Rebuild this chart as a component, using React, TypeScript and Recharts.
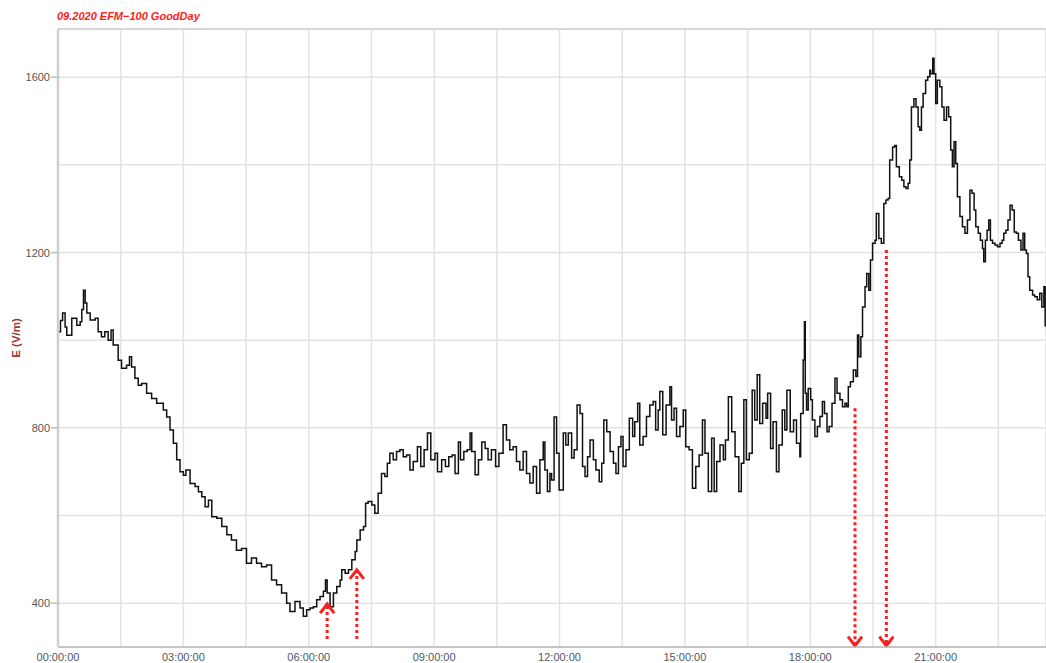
import React from 'react';
import { LineChart, Line, XAxis, YAxis, CartesianGrid, ReferenceLine } from 'recharts';

// [hour of day, E field in V/m]
const earlyDecline: [number, number][] = [
  [0, 1019], [0.06, 1045], [0.11, 1062], [0.17, 1030], [0.21, 1011], [0.33, 1050], [0.45, 1034],
  [0.53, 1042], [0.57, 1070], [0.61, 1114], [0.65, 1085], [0.69, 1062], [0.77, 1046], [0.89, 1050],
  [0.96, 1019], [1.04, 1008], [1.12, 1019], [1.2, 1000], [1.27, 1023], [1.32, 989], [1.44, 954],
  [1.52, 936], [1.64, 943], [1.71, 962], [1.76, 939], [1.84, 913], [1.92, 897], [2.0, 901],
  [2.12, 879], [2.24, 867], [2.36, 856], [2.44, 856], [2.52, 841], [2.6, 825], [2.68, 795],
  [2.76, 765], [2.84, 727], [2.92, 700], [3.0, 692], [3.06, 704], [3.16, 673], [3.28, 666],
  [3.36, 654], [3.44, 643], [3.52, 620], [3.6, 635], [3.68, 597], [3.8, 594], [3.92, 575],
  [4.04, 556], [4.15, 544], [4.27, 521], [4.39, 525], [4.51, 491], [4.63, 503], [4.75, 491],
  [4.87, 483], [4.99, 487], [5.11, 453], [5.23, 442], [5.35, 423], [5.47, 400], [5.55, 381],
  [5.67, 404],
];

const sunriseRise: [number, number][] = [
  [5.79, 389], [5.87, 370], [5.95, 385], [6.03, 389], [6.11, 392], [6.19, 408], [6.27, 415],
  [6.35, 427], [6.4, 453], [6.44, 423], [6.51, 392], [6.59, 423], [6.67, 438], [6.75, 453],
  [6.79, 476], [6.87, 468], [6.95, 476], [7.03, 499], [7.11, 518], [7.15, 544], [7.23, 567],
  [7.31, 575], [7.36, 628], [7.42, 632],
];

const morningPlateau: [number, number][] = [
  [7.51, 624], [7.58, 605], [7.66, 651], [7.74, 696], [7.82, 689], [7.88, 719], [7.94, 742],
  [8.02, 727], [8.1, 746], [8.18, 750], [8.26, 734], [8.34, 738], [8.42, 704], [8.5, 723],
  [8.6, 757], [8.68, 712], [8.76, 750], [8.84, 788], [8.92, 727], [9.02, 742], [9.08, 700],
  [9.18, 727], [9.27, 712], [9.35, 734], [9.43, 738], [9.5, 696], [9.58, 768], [9.63, 727],
  [9.71, 746], [9.79, 750], [9.86, 788], [9.9, 746], [9.98, 693], [10.06, 727], [10.14, 768],
  [10.22, 753], [10.29, 727], [10.37, 750], [10.47, 712], [10.55, 742], [10.65, 807], [10.73, 772],
  [10.81, 750], [10.89, 757], [10.97, 723], [11.05, 704], [11.13, 746], [11.21, 696], [11.29, 674],
  [11.37, 712], [11.45, 651], [11.53, 727], [11.61, 768], [11.65, 704], [11.71, 655], [11.77, 696],
  [11.81, 681], [11.87, 825], [11.93, 742], [11.99, 658],
];

const afternoonNoise: [number, number][] = [
  [12.03, 658], [12.09, 788], [12.15, 761], [12.21, 788], [12.29, 731], [12.35, 750], [12.42, 852],
  [12.49, 833], [12.55, 712], [12.61, 689], [12.67, 734], [12.73, 772], [12.81, 727], [12.87, 704],
  [12.95, 677], [13.01, 719], [13.06, 818], [13.13, 791], [13.21, 746], [13.29, 719], [13.35, 696],
  [13.41, 757], [13.47, 780], [13.52, 712], [13.59, 750], [13.67, 822], [13.75, 780], [13.8, 814],
  [13.87, 856], [13.92, 761], [14.0, 780], [14.08, 826], [14.16, 852], [14.24, 860], [14.3, 795],
  [14.36, 841], [14.4, 883], [14.47, 784], [14.55, 852], [14.64, 894], [14.68, 818], [14.74, 845],
  [14.8, 780], [14.88, 803], [14.96, 841], [15.02, 757], [15.1, 750], [15.18, 662], [15.26, 712],
  [15.34, 738], [15.42, 818], [15.48, 742], [15.56, 655], [15.64, 776], [15.7, 655], [15.76, 723],
  [15.84, 761], [15.92, 727], [15.97, 772], [16.04, 871], [16.12, 791], [16.2, 734], [16.29, 655],
  [16.35, 719], [16.41, 864], [16.47, 727], [16.54, 742], [16.61, 886], [16.67, 818], [16.73, 921],
  [16.79, 810], [16.86, 856], [16.94, 822], [16.98, 879], [17.05, 753], [17.11, 814], [17.19, 700],
  [17.25, 761], [17.33, 841], [17.39, 795], [17.44, 886], [17.52, 791], [17.6, 818], [17.67, 765],
  [17.75, 734],
];

const eveningRise: [number, number][] = [
  [17.77, 833], [17.83, 955], [17.86, 1042], [17.88, 879], [17.91, 841], [17.95, 890], [18.01, 864],
  [18.05, 818], [18.11, 780], [18.17, 803], [18.23, 826], [18.29, 860], [18.34, 833], [18.4, 791],
  [18.45, 803], [18.52, 856], [18.59, 913], [18.64, 879], [18.71, 864], [18.77, 848], [18.83, 856],
  [18.87, 848], [18.91, 894], [18.96, 905], [19.03, 932], [19.09, 917], [19.13, 1012], [19.16, 962],
  [19.21, 1008], [19.25, 1076], [19.31, 1122], [19.35, 1152], [19.4, 1114], [19.44, 1183],
  [19.49, 1221], [19.55, 1228], [19.58, 1289], [19.64, 1232], [19.7, 1221], [19.76, 1312],
  [19.81, 1320], [19.86, 1323], [19.9, 1411], [19.97, 1441], [20.02, 1444], [20.06, 1396],
  [20.13, 1373], [20.19, 1365], [20.24, 1350], [20.29, 1346], [20.34, 1358], [20.38, 1411],
  [20.42, 1532], [20.48, 1551], [20.53, 1532], [20.58, 1487], [20.62, 1479], [20.66, 1532],
  [20.7, 1563], [20.76, 1593], [20.81, 1601], [20.86, 1616],
];

const nightFall: [number, number][] = [
  [20.88, 1608], [20.93, 1643], [20.96, 1608], [21.0, 1540], [21.04, 1593], [21.1, 1578],
  [21.15, 1532], [21.2, 1502], [21.26, 1532], [21.31, 1510], [21.36, 1434], [21.4, 1396],
  [21.44, 1453], [21.48, 1403], [21.52, 1327], [21.58, 1282], [21.64, 1259], [21.7, 1244],
  [21.76, 1274], [21.82, 1342], [21.87, 1335], [21.92, 1297], [21.96, 1259], [22.02, 1244],
  [22.07, 1228], [22.12, 1209], [22.15, 1179], [22.19, 1228], [22.23, 1251], [22.27, 1274],
  [22.31, 1228], [22.36, 1221], [22.42, 1217], [22.48, 1213], [22.54, 1221], [22.59, 1228],
  [22.63, 1244], [22.68, 1251], [22.73, 1274], [22.78, 1308], [22.83, 1297], [22.88, 1247],
  [22.93, 1244], [22.98, 1228], [23.04, 1206], [23.09, 1244], [23.13, 1206], [23.17, 1198],
  [23.21, 1145], [23.25, 1114], [23.32, 1103], [23.37, 1099], [23.43, 1092], [23.49, 1107],
  [23.54, 1076], [23.59, 1122], [23.62, 1031],
];

// marked moments: hour, start value, end value (arrow points to end)
const arrowHours = [6.44, 7.15, 19.07, 19.82];
const arrowFrom = [318, 318, 845, 1206];
const arrowTo = [398, 476, 303, 303];

const xTicks = [0, 1.5, 3, 4.5, 6, 7.5, 9, 10.5, 12, 13.5, 15, 16.5, 18, 19.5, 21, 22.5];
const yTicks = [400, 600, 800, 1000, 1200, 1400, 1600];

const X_MAX = 23.64;
const Y_MIN = 300;
const Y_MAX = 1710;

const data = [
  ...earlyDecline,
  ...sunriseRise,
  ...morningPlateau,
  ...afternoonNoise,
  ...eveningRise,
  ...nightFall,
].map(([h, e]) => ({ h, e }));

const FONT = '"Liberation Sans", Arial, sans-serif';
const RED = '#ff1c1c';

const pad = (n: number) => (n < 10 ? `0${n}` : `${n}`);

const XTick = ({ x, y, payload }: any) => {
  if (payload.value % 3 !== 0) return <g />;
  return (
    <text x={x} y={y + 6} textAnchor="middle" fontSize={11} fontFamily={FONT} fill="#4f5763">
      {`${pad(payload.value)}:00:00`}
    </text>
  );
};

const YTick = ({ x, y, payload }: any) => {
  if (payload.value % 400 !== 0) return <g />;
  return (
    <g>
      <line x1={x + 1} x2={x + 8} y1={y} y2={y} stroke="#bdbdbd" strokeWidth={1.5} />
      <text x={x} y={y + 4} textAnchor="end" fontSize={11} fontFamily={FONT} fill="#555">
        {payload.value}
      </text>
    </g>
  );
};

const YLabel = ({ viewBox }: any) => {
  const cx = 16;
  const cy = viewBox ? viewBox.y + viewBox.height / 2 : 338;
  return (
    <text
      x={cx}
      y={cy}
      transform={`rotate(-90 ${cx} ${cy})`}
      textAnchor="middle"
      dominantBaseline="central"
      fontSize={11.5}
      fontWeight="bold"
      fontFamily={FONT}
      fill="#9c3838"
    >
      E (V/m)
    </text>
  );
};

const Arrow = (props: any) => {
  const { x1, y1, x2, y2 } = props;
  const dir = y2 < y1 ? -1 : 1;
  const w = 7;
  const h = 9;
  return (
    <g>
      <line x1={x1} y1={y1} x2={x2} y2={y2 - dir * 2} stroke={RED} strokeWidth={3} strokeDasharray="3 3" />
      <polyline
        points={`${x2 - w},${y2 - dir * h} ${x2},${y2} ${x2 + w},${y2 - dir * h}`}
        fill="none"
        stroke={RED}
        strokeWidth={3}
      />
    </g>
  );
};

export default function App() {
  return (
    <div style={{ position: 'absolute', left: 0, top: 0, width: 1046, height: 663, background: '#fff' }}>
      <div
        style={{
          position: 'absolute',
          left: 57,
          top: 10,
          fontFamily: FONT,
          fontSize: 11,
          fontWeight: 'bold',
          fontStyle: 'italic',
          color: RED,
          lineHeight: '13px',
          whiteSpace: 'nowrap',
        }}
      >
        09.2020 EFM−100 GoodDay
      </div>
      <LineChart width={1046} height={663} data={data} margin={{ top: 29, right: 0, bottom: 0, left: 0 }}>
        <CartesianGrid stroke="#e3e3e3" strokeWidth={1.5} />
        <XAxis
          dataKey="h"
          type="number"
          domain={[0, X_MAX]}
          ticks={xTicks}
          interval={0}
          height={16}
          tickLine={false}
          axisLine={{ stroke: '#b8b8b8', strokeWidth: 1.5 }}
          tick={<XTick />}
        />
        <YAxis
          type="number"
          domain={[Y_MIN, Y_MAX]}
          ticks={yTicks}
          interval={0}
          width={58}
          tickLine={false}
          axisLine={{ stroke: '#cfcfcf', strokeWidth: 2.5 }}
          tick={<YTick />}
          label={<YLabel />}
        />
        <ReferenceLine y={Y_MAX} stroke="#d6d6d6" strokeWidth={2} />
        <Line
          type="stepAfter"
          dataKey="e"
          stroke="#111"
          strokeWidth={1.5}
          dot={false}
          isAnimationActive={false}
        />
        {arrowHours.map((h, i) => (
          <ReferenceLine
            key={h}
            segment={[
              { x: h, y: arrowFrom[i] },
              { x: h, y: arrowTo[i] },
            ]}
            shape={<Arrow />}
          />
        ))}
      </LineChart>
    </div>
  );
}
